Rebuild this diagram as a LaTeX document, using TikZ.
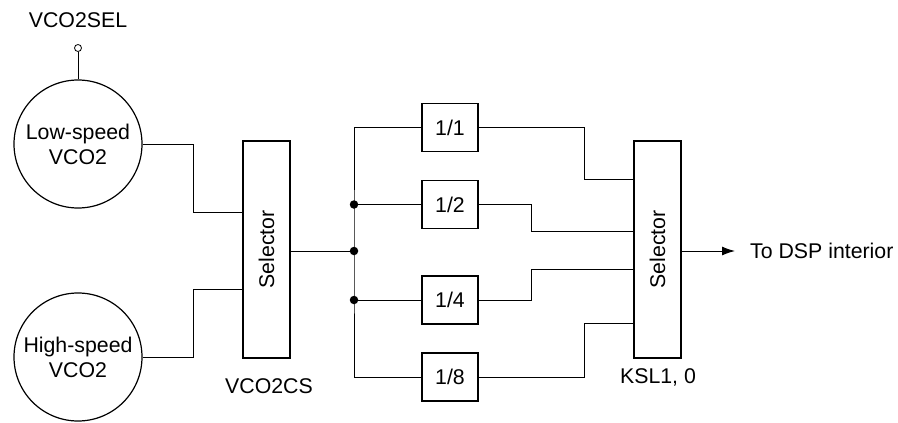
\documentclass[tikz,border=0pt]{standalone}
\usepackage{fontspec}
\setmainfont{Liberation Sans}
\usepackage{graphicx}
\usetikzlibrary{arrows.meta}
\begin{document}
\begin{tikzpicture}[x=1pt,y=-1pt,
  font=\fontsize{21.3}{25}\selectfont,
  wire/.style={line width=1pt},
  vco/.style={draw, circle, line width=1.2pt, minimum size=128pt, inner sep=0pt, align=center},
  selbox/.style={draw, line width=1.6pt, minimum width=47pt, minimum height=217pt, inner sep=0pt},
  divbox/.style={draw, line width=1.6pt, minimum width=56pt, minimum height=48pt, inner sep=0pt},
  lbl/.style={inner sep=0pt},
  jdot/.style={circle, fill, inner sep=0pt, minimum size=8.5pt},
  term/.style={draw, circle, fill=white, inner sep=0pt, minimum size=7pt, line width=0.8pt}]
\useasboundingbox (0,0) rectangle (898,423);

\node[lbl] (selname) at (78,20) {VCO2SEL};
\node[term] (tm) at (78,48) {};
\node[vco] (low) at (78,144) {Low-speed\\VCO2};
\node[vco] (high) at (78,357) {High-speed\\VCO2};

\node[selbox] (s1) at (266.5,249.5) {\rotatebox{90}{Selector}};
\node[lbl] (s1lbl) at (269,386) {VCO2CS};

\node[divbox] (d1) at (450,127.5) {1/1};
\node[divbox] (d2) at (450,204.5) {1/2};
\node[divbox] (d4) at (450,300) {1/4};
\node[divbox] (d8) at (450,377) {1/8};

\node[selbox] (s2) at (657.5,249.5) {\rotatebox{90}{Selector}};
\node[lbl] (s2lbl) at (658,377) {KSL1, 0};
\node[lbl, anchor=west] (dsp) at (750,251) {To DSP interior};

\coordinate (j2) at (354,204.5);
\coordinate (j3) at (354,251);
\coordinate (j4) at (354,300);

\draw[wire] (tm) -- (low);
\draw[wire] (low.east) -- (193,144) -- (193,212) -- (s1.west |- 0,212);
\draw[wire] (high.east) -- (193,357) -- (193,289) -- (s1.west |- 0,289);
\draw[wire] (s1.east |- j3) -- (j3);

\draw[wire] (d1.west) -| (j3) |- (d8.west);
\draw[wire] (j2) -- (d2.west);
\draw[wire] (j4) -- (d4.west);
\node[jdot] at (j2) {};
\node[jdot] at (j3) {};
\node[jdot] at (j4) {};

\draw[wire] (d1.east) -- (584,127.5) -- (584,179) -- (s2.west |- 0,179);
\draw[wire] (d2.east) -- (531,204.5) -- (531,231) -- (s2.west |- 0,231);
\draw[wire] (d4.east) -- (531,300) -- (531,269) -- (s2.west |- 0,269);
\draw[wire] (d8.east) -- (584,377) -- (584,323) -- (s2.west |- 0,323);

\draw[wire, -{Latex[length=13pt,width=9pt]}] (s2.east |- dsp.west) -- ([xshift=-15pt]dsp.west);
\end{tikzpicture}
\end{document}
